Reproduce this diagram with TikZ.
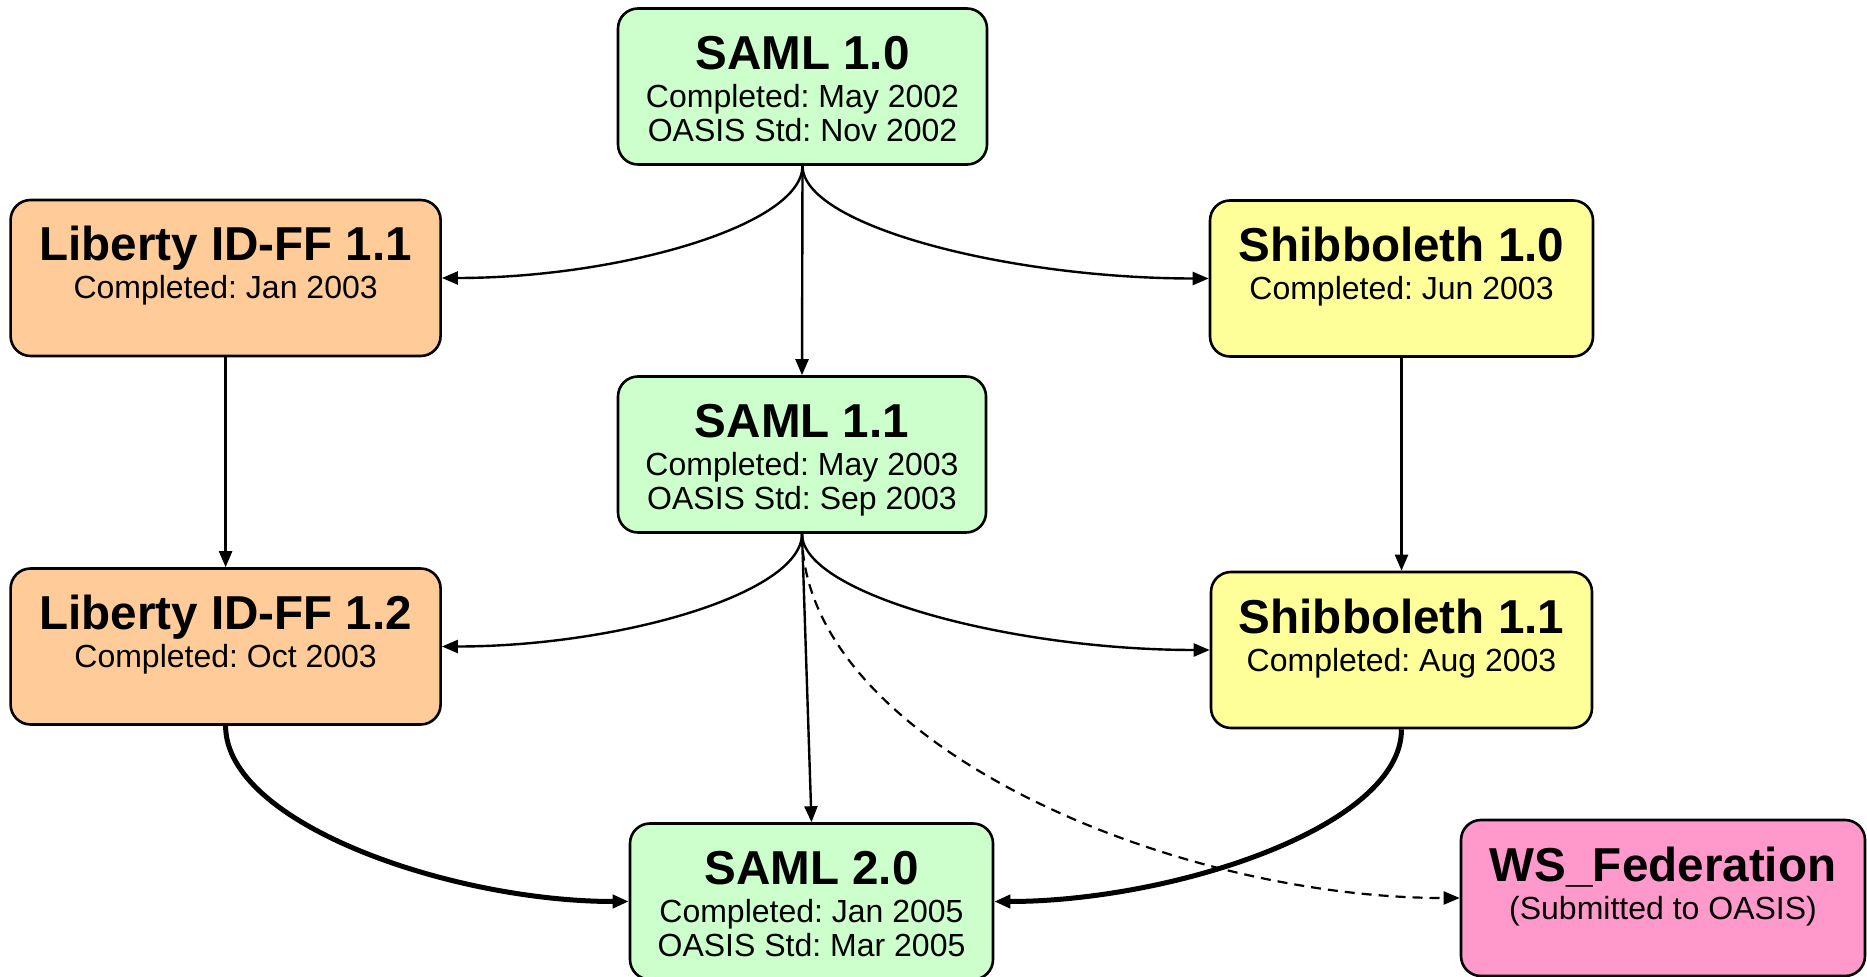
\documentclass[tikz,border=0pt]{standalone}
\usepackage{fontspec}
\setmainfont{Liberation Sans}
\usetikzlibrary{arrows.meta}
\definecolor{samlGreen}{HTML}{CCFFCC}
\definecolor{libertyOrange}{HTML}{FFCC99}
\definecolor{shibYellow}{HTML}{FFFF99}
\definecolor{wsPink}{HTML}{FF99CC}
\frenchspacing
\newcommand{\titlefont}{\fontsize{23.8}{24}\selectfont\bfseries}
\newcommand{\datefont}{\fontsize{16}{16}\selectfont}
\newcommand{\spec}[3]{\parbox[c][78pt][t]{0pt}{\offinterlineskip
  \rule{0pt}{30.5pt}\makebox[0pt]{\smash{\titlefont #1}}\par
  \rule{0pt}{19pt}\makebox[0pt]{\smash{\datefont #2}}\par
  \rule{0pt}{17.2pt}\makebox[0pt]{\smash{\datefont #3}}}}
\tikzstyle{specBox} = [draw, rectangle, rounded corners=10pt, line width=1.3pt,
   inner sep=0pt, minimum height=78pt]
\tikzstyle{thinArrow} = [line width=1.2pt, -{Triangle[length=8pt,width=6.5pt]}]
\tikzstyle{thickArrow} = [line width=2.5pt, -{Triangle[length=8pt,width=6.5pt]}]
\tikzstyle{dashArrow} = [line width=1.1pt, dash pattern=on 5pt off 3.5pt,
   -{Triangle[length=8pt,width=6.5pt]}]
\begin{document}
\begin{tikzpicture}[x=0.5pt, y=-0.5pt]
  \useasboundingbox (0,0) rectangle (1867,977);
  \node[specBox, fill=samlGreen, minimum width=184.5pt] (saml10) at (802.5,86.5)
    {\spec{SAML 1.0}{Completed: May 2002}{OASIS Std: Nov 2002}};
  \node[specBox, fill=libertyOrange, minimum width=215pt] (lib11) at (225.6,278)
    {\spec{Liberty ID-FF 1.1}{Completed: Jan 2003}{}};
  \node[specBox, fill=shibYellow, minimum width=191.5pt] (shib10) at (1401.5,278.5)
    {\spec{Shibboleth 1.0}{Completed: Jun 2003}{}};
  \node[specBox, fill=samlGreen, minimum width=184pt] (saml11) at (802,454.5)
    {\spec{SAML 1.1}{Completed: May 2003}{OASIS Std: Sep 2003}};
  \node[specBox, fill=libertyOrange, minimum width=215pt] (lib12) at (225.6,646.5)
    {\spec{Liberty ID-FF 1.2}{Completed: Oct 2003}{}};
  \node[specBox, fill=shibYellow, minimum width=190.5pt] (shib11) at (1401.5,650)
    {\spec{Shibboleth 1.1}{Completed: Aug 2003}{}};
  \node[specBox, fill=samlGreen, minimum width=181.5pt] (saml20) at (811.5,901.5)
    {\spec{SAML 2.0}{Completed: Jan 2005}{OASIS Std: Mar 2005}};
  \node[specBox, fill=wsPink, minimum width=202pt] (wsfed) at (1663,898)
    {\spec{WS\_Federation}{(Submitted to OASIS)}{}};
  \draw[thinArrow] (saml10.south) -- (saml11.north);
  \draw[thinArrow] (saml10.south) .. controls +(0,60) and +(176,0) .. (lib11.east);
  \draw[thinArrow] (saml10.south) .. controls +(0,60) and +(-200,0) .. (shib10.west);
  \draw[thinArrow] (lib11.south) -- (lib12.north);
  \draw[thinArrow] (shib10.south) -- (shib11.north);
  \draw[thinArrow] (saml11.south) .. controls +(0,60) and +(176,0) .. (lib12.east);
  \draw[thinArrow] (saml11.south) .. controls +(0,60) and +(-200,0) .. (shib11.west);
  \draw[thinArrow] (saml11.south) -- (saml20.north);
  % not part of the merge
  \draw[dashArrow] (saml11.south) .. controls +(0,206) and +(-294,0) .. (wsfed.west);
  \draw[thickArrow] (lib12.south) .. controls +(0,98) and +(-177,0) .. (saml20.west);
  \draw[thickArrow] (shib11.south) .. controls +(0,98) and +(177,0) .. (saml20.east);
\end{tikzpicture}
\end{document}
